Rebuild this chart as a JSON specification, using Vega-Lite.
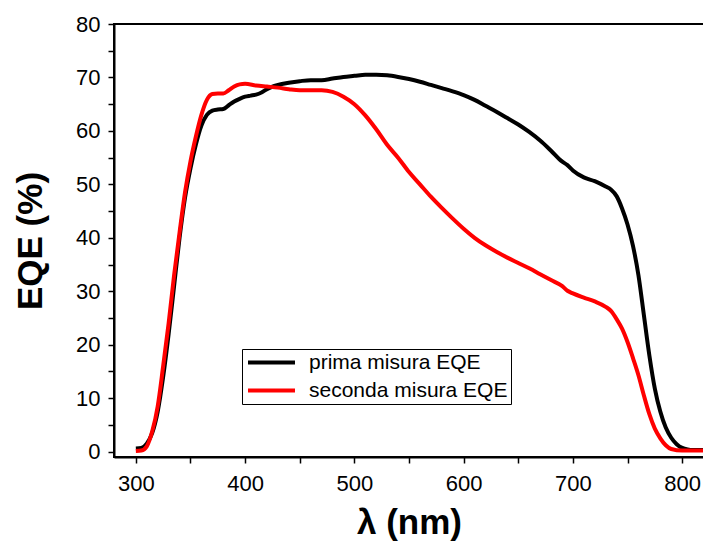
{
  "$schema": "https://vega.github.io/schema/vega-lite/v6.json",
  "autosize": {"type": "none"},
  "width": 590,
  "height": 433,
  "padding": {"left": 114, "top": 24, "right": 0, "bottom": 89},
  "background": "white",
  "config": {
    "view": {"stroke": "black", "strokeWidth": 2},
    "font": "Liberation Sans",
    "axis": {
      "domainColor": "black",
      "domainWidth": 2,
      "tickColor": "black",
      "tickWidth": 1.5,
      "labelColor": "black",
      "labelFont": "Liberation Sans",
      "labelFontSize": 22,
      "titleFont": "Liberation Sans",
      "titleColor": "black",
      "titleFontWeight": "bold",
      "grid": false,
      "labelOverlap": false
    }
  },
  "data": {"values": [
      {"series": "prima misura EQE", "wl": 300, "eqe": 0.6},
      {"series": "prima misura EQE", "wl": 305, "eqe": 0.7},
      {"series": "prima misura EQE", "wl": 310, "eqe": 1.5},
      {"series": "prima misura EQE", "wl": 315, "eqe": 3.5},
      {"series": "prima misura EQE", "wl": 320, "eqe": 7.5},
      {"series": "prima misura EQE", "wl": 325, "eqe": 14},
      {"series": "prima misura EQE", "wl": 330, "eqe": 22},
      {"series": "prima misura EQE", "wl": 335, "eqe": 31},
      {"series": "prima misura EQE", "wl": 340, "eqe": 40},
      {"series": "prima misura EQE", "wl": 345, "eqe": 47.5},
      {"series": "prima misura EQE", "wl": 350, "eqe": 53},
      {"series": "prima misura EQE", "wl": 355, "eqe": 57.5},
      {"series": "prima misura EQE", "wl": 360, "eqe": 61},
      {"series": "prima misura EQE", "wl": 365, "eqe": 63},
      {"series": "prima misura EQE", "wl": 370, "eqe": 63.8},
      {"series": "prima misura EQE", "wl": 375, "eqe": 64.0},
      {"series": "prima misura EQE", "wl": 380, "eqe": 64.1},
      {"series": "prima misura EQE", "wl": 385, "eqe": 64.8},
      {"series": "prima misura EQE", "wl": 390, "eqe": 65.5},
      {"series": "prima misura EQE", "wl": 395, "eqe": 66.0},
      {"series": "prima misura EQE", "wl": 400, "eqe": 66.4},
      {"series": "prima misura EQE", "wl": 405, "eqe": 66.6},
      {"series": "prima misura EQE", "wl": 410, "eqe": 66.8},
      {"series": "prima misura EQE", "wl": 415, "eqe": 67.2},
      {"series": "prima misura EQE", "wl": 420, "eqe": 67.8},
      {"series": "prima misura EQE", "wl": 425, "eqe": 68.3},
      {"series": "prima misura EQE", "wl": 430, "eqe": 68.6},
      {"series": "prima misura EQE", "wl": 440, "eqe": 69.0},
      {"series": "prima misura EQE", "wl": 450, "eqe": 69.3},
      {"series": "prima misura EQE", "wl": 460, "eqe": 69.5},
      {"series": "prima misura EQE", "wl": 470, "eqe": 69.5},
      {"series": "prima misura EQE", "wl": 480, "eqe": 69.8},
      {"series": "prima misura EQE", "wl": 490, "eqe": 70.1},
      {"series": "prima misura EQE", "wl": 500, "eqe": 70.3},
      {"series": "prima misura EQE", "wl": 510, "eqe": 70.5},
      {"series": "prima misura EQE", "wl": 520, "eqe": 70.5},
      {"series": "prima misura EQE", "wl": 530, "eqe": 70.4},
      {"series": "prima misura EQE", "wl": 540, "eqe": 70.1},
      {"series": "prima misura EQE", "wl": 550, "eqe": 69.7},
      {"series": "prima misura EQE", "wl": 560, "eqe": 69.2},
      {"series": "prima misura EQE", "wl": 570, "eqe": 68.6},
      {"series": "prima misura EQE", "wl": 580, "eqe": 68.0},
      {"series": "prima misura EQE", "wl": 590, "eqe": 67.4},
      {"series": "prima misura EQE", "wl": 600, "eqe": 66.7},
      {"series": "prima misura EQE", "wl": 610, "eqe": 65.8},
      {"series": "prima misura EQE", "wl": 620, "eqe": 64.7},
      {"series": "prima misura EQE", "wl": 630, "eqe": 63.6},
      {"series": "prima misura EQE", "wl": 640, "eqe": 62.4},
      {"series": "prima misura EQE", "wl": 650, "eqe": 61.2},
      {"series": "prima misura EQE", "wl": 660, "eqe": 59.8},
      {"series": "prima misura EQE", "wl": 670, "eqe": 58.2},
      {"series": "prima misura EQE", "wl": 680, "eqe": 56.3},
      {"series": "prima misura EQE", "wl": 690, "eqe": 54.3},
      {"series": "prima misura EQE", "wl": 695, "eqe": 53.6},
      {"series": "prima misura EQE", "wl": 700, "eqe": 52.6},
      {"series": "prima misura EQE", "wl": 710, "eqe": 51.3},
      {"series": "prima misura EQE", "wl": 720, "eqe": 50.6},
      {"series": "prima misura EQE", "wl": 730, "eqe": 49.6},
      {"series": "prima misura EQE", "wl": 735, "eqe": 49.0},
      {"series": "prima misura EQE", "wl": 740, "eqe": 47.8},
      {"series": "prima misura EQE", "wl": 745, "eqe": 45.5},
      {"series": "prima misura EQE", "wl": 750, "eqe": 42.5},
      {"series": "prima misura EQE", "wl": 755, "eqe": 38.5},
      {"series": "prima misura EQE", "wl": 760, "eqe": 33},
      {"series": "prima misura EQE", "wl": 765, "eqe": 25.5},
      {"series": "prima misura EQE", "wl": 770, "eqe": 18},
      {"series": "prima misura EQE", "wl": 775, "eqe": 11.8},
      {"series": "prima misura EQE", "wl": 780, "eqe": 7.5},
      {"series": "prima misura EQE", "wl": 785, "eqe": 4.5},
      {"series": "prima misura EQE", "wl": 790, "eqe": 2.6},
      {"series": "prima misura EQE", "wl": 795, "eqe": 1.4},
      {"series": "prima misura EQE", "wl": 800, "eqe": 0.7},
      {"series": "prima misura EQE", "wl": 805, "eqe": 0.4},
      {"series": "prima misura EQE", "wl": 810, "eqe": 0.3},
      {"series": "prima misura EQE", "wl": 820, "eqe": 0.3},
      {"series": "seconda misura EQE", "wl": 300, "eqe": 0.1},
      {"series": "seconda misura EQE", "wl": 305, "eqe": 0.2},
      {"series": "seconda misura EQE", "wl": 310, "eqe": 1.0},
      {"series": "seconda misura EQE", "wl": 315, "eqe": 3.8},
      {"series": "seconda misura EQE", "wl": 320, "eqe": 8.5},
      {"series": "seconda misura EQE", "wl": 325, "eqe": 16},
      {"series": "seconda misura EQE", "wl": 330, "eqe": 24},
      {"series": "seconda misura EQE", "wl": 335, "eqe": 33},
      {"series": "seconda misura EQE", "wl": 340, "eqe": 41},
      {"series": "seconda misura EQE", "wl": 345, "eqe": 48.5},
      {"series": "seconda misura EQE", "wl": 350, "eqe": 54.3},
      {"series": "seconda misura EQE", "wl": 355, "eqe": 59},
      {"series": "seconda misura EQE", "wl": 360, "eqe": 63},
      {"series": "seconda misura EQE", "wl": 365, "eqe": 65.8},
      {"series": "seconda misura EQE", "wl": 370, "eqe": 66.9},
      {"series": "seconda misura EQE", "wl": 375, "eqe": 67.0},
      {"series": "seconda misura EQE", "wl": 380, "eqe": 67.0},
      {"series": "seconda misura EQE", "wl": 385, "eqe": 67.6},
      {"series": "seconda misura EQE", "wl": 390, "eqe": 68.3},
      {"series": "seconda misura EQE", "wl": 395, "eqe": 68.7},
      {"series": "seconda misura EQE", "wl": 400, "eqe": 68.8},
      {"series": "seconda misura EQE", "wl": 410, "eqe": 68.5},
      {"series": "seconda misura EQE", "wl": 420, "eqe": 68.3},
      {"series": "seconda misura EQE", "wl": 430, "eqe": 68.1},
      {"series": "seconda misura EQE", "wl": 440, "eqe": 67.8},
      {"series": "seconda misura EQE", "wl": 450, "eqe": 67.6},
      {"series": "seconda misura EQE", "wl": 460, "eqe": 67.6},
      {"series": "seconda misura EQE", "wl": 470, "eqe": 67.6},
      {"series": "seconda misura EQE", "wl": 480, "eqe": 67.3},
      {"series": "seconda misura EQE", "wl": 490, "eqe": 66.4},
      {"series": "seconda misura EQE", "wl": 500, "eqe": 65.0},
      {"series": "seconda misura EQE", "wl": 510, "eqe": 62.9},
      {"series": "seconda misura EQE", "wl": 520, "eqe": 60.3},
      {"series": "seconda misura EQE", "wl": 530, "eqe": 57.4},
      {"series": "seconda misura EQE", "wl": 540, "eqe": 55.0},
      {"series": "seconda misura EQE", "wl": 550, "eqe": 52.3},
      {"series": "seconda misura EQE", "wl": 560, "eqe": 50.0},
      {"series": "seconda misura EQE", "wl": 570, "eqe": 47.7},
      {"series": "seconda misura EQE", "wl": 580, "eqe": 45.6},
      {"series": "seconda misura EQE", "wl": 590, "eqe": 43.6},
      {"series": "seconda misura EQE", "wl": 600, "eqe": 41.7},
      {"series": "seconda misura EQE", "wl": 610, "eqe": 40.0},
      {"series": "seconda misura EQE", "wl": 620, "eqe": 38.6},
      {"series": "seconda misura EQE", "wl": 630, "eqe": 37.4},
      {"series": "seconda misura EQE", "wl": 640, "eqe": 36.3},
      {"series": "seconda misura EQE", "wl": 650, "eqe": 35.3},
      {"series": "seconda misura EQE", "wl": 660, "eqe": 34.3},
      {"series": "seconda misura EQE", "wl": 670, "eqe": 33.2},
      {"series": "seconda misura EQE", "wl": 680, "eqe": 32.1},
      {"series": "seconda misura EQE", "wl": 690, "eqe": 31.0},
      {"series": "seconda misura EQE", "wl": 695, "eqe": 30.1},
      {"series": "seconda misura EQE", "wl": 700, "eqe": 29.6},
      {"series": "seconda misura EQE", "wl": 710, "eqe": 28.8},
      {"series": "seconda misura EQE", "wl": 720, "eqe": 28.1},
      {"series": "seconda misura EQE", "wl": 730, "eqe": 27.1},
      {"series": "seconda misura EQE", "wl": 735, "eqe": 26.3},
      {"series": "seconda misura EQE", "wl": 740, "eqe": 24.8},
      {"series": "seconda misura EQE", "wl": 745, "eqe": 23.0},
      {"series": "seconda misura EQE", "wl": 750, "eqe": 20.5},
      {"series": "seconda misura EQE", "wl": 755, "eqe": 17.5},
      {"series": "seconda misura EQE", "wl": 760, "eqe": 14.3},
      {"series": "seconda misura EQE", "wl": 765, "eqe": 10.5},
      {"series": "seconda misura EQE", "wl": 770, "eqe": 7.0},
      {"series": "seconda misura EQE", "wl": 775, "eqe": 4.3},
      {"series": "seconda misura EQE", "wl": 780, "eqe": 2.5},
      {"series": "seconda misura EQE", "wl": 785, "eqe": 1.2},
      {"series": "seconda misura EQE", "wl": 790, "eqe": 0.5},
      {"series": "seconda misura EQE", "wl": 800, "eqe": 0.2},
      {"series": "seconda misura EQE", "wl": 810, "eqe": 0.2},
      {"series": "seconda misura EQE", "wl": 820, "eqe": 0.2}
  ]},
  "mark": {"type": "line", "strokeWidth": 4, "interpolate": "monotone", "clip": true},
  "encoding": {
    "x": {
      "field": "wl",
      "type": "quantitative",
      "scale": {"domain": [280, 820], "nice": false, "zero": false},
      "axis": {
        "title": "λ (nm)",
        "titleFontSize": 35,
        "titlePadding": 11,
        "values": [300, 350, 400, 450, 500, 550, 600, 650, 700, 750, 800],
        "labelExpr": "datum.value % 100 === 0 ? datum.label : ''",
        "tickSize": 6,
        "labelPadding": 10
      }
    },
    "y": {
      "field": "eqe",
      "type": "quantitative",
      "scale": {"domain": [-1, 80], "nice": false, "zero": false},
      "axis": {
        "title": "EQE (%)",
        "titleFontSize": 35,
        "titlePadding": 27,
        "values": [0, 5, 10, 15, 20, 25, 30, 35, 40, 45, 50, 55, 60, 65, 70, 75, 80],
        "labelExpr": "datum.value % 10 === 0 ? datum.label : ''",
        "tickSize": 6,
        "labelPadding": 8
      }
    },
    "color": {
      "field": "series",
      "type": "nominal",
      "scale": {"domain": ["prima misura EQE", "seconda misura EQE"], "range": ["#000000", "#ff0000"]},
      "legend": {
        "title": null,
        "orient": "none",
        "legendX": 128,
        "legendY": 325,
        "direction": "vertical",
        "strokeColor": "black",
        "fillColor": "white",
        "padding": 3,
        "symbolOffset": 16,
        "symbolType": "M-4,0H4",
        "symbolSize": 138,
        "symbolStrokeWidth": 4,
        "labelFontSize": 21,
        "labelFont": "Liberation Sans",
        "labelColor": "black",
        "labelOffset": 27,
        "rowPadding": 6,
        "labelLimit": 400
      }
    }
  }
}
